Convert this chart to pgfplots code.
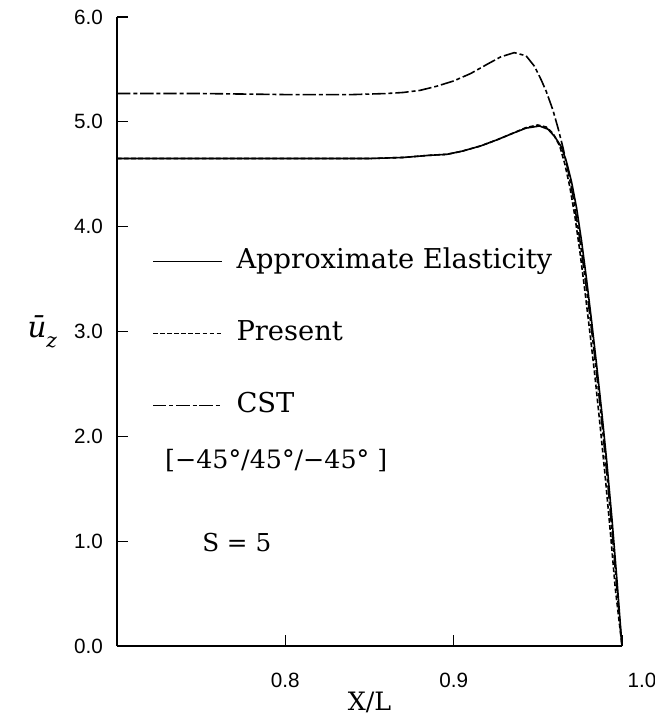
\documentclass[border=0pt]{standalone}
\usepackage{fontspec}
\setmainfont{DejaVu Serif}
\newfontfamily\tickfont{Liberation Sans}
\usepackage{pgfplots}
\pgfplotsset{compat=1.18}

\pgfplotstableread{
x y
0.700 4.65
0.750 4.65
0.800 4.65
0.850 4.65
0.870 4.66
0.885 4.68
0.896 4.69
0.905 4.72
0.916 4.77
0.926 4.83
0.935 4.89
0.943 4.94
0.951 4.96
0.956 4.93
0.960 4.86
0.964 4.76
0.967 4.62
0.970 4.43
0.973 4.18
0.976 3.86
0.979 3.49
0.982 3.09
0.985 2.67
0.988 2.23
0.991 1.75
0.994 1.22
0.997 0.63
1.000 0.00
}\approxtab

\pgfplotstableread{
x y
0.700 4.65
0.750 4.65
0.800 4.65
0.850 4.65
0.870 4.66
0.885 4.68
0.896 4.69
0.905 4.72
0.916 4.77
0.926 4.83
0.935 4.89
0.943 4.945
0.950 4.97
0.955 4.95
0.959 4.89
0.963 4.77
0.966 4.60
0.969 4.38
0.972 4.10
0.975 3.76
0.978 3.38
0.981 2.98
0.984 2.56
0.987 2.10
0.990 1.62
0.993 1.10
0.996 0.55
1.000 0.00
}\presenttab

\pgfplotstableread{
x y
0.700 5.27
0.750 5.27
0.800 5.26
0.840 5.26
0.860 5.27
0.870 5.28
0.880 5.30
0.890 5.34
0.900 5.39
0.910 5.46
0.920 5.55
0.928 5.62
0.936 5.66
0.943 5.63
0.948 5.53
0.952 5.40
0.955 5.29
0.959 5.11
0.962 4.94
0.965 4.75
0.968 4.53
0.971 4.28
0.974 3.98
0.977 3.64
0.980 3.27
0.983 2.87
0.986 2.44
0.989 1.98
0.992 1.47
0.995 0.92
0.998 0.35
1.000 0.00
}\csttab

\begin{document}
\begin{tikzpicture}
\begin{axis}[
  scale only axis,
  width=378.75pt, height=471.75pt,
  xmin=0.7, xmax=1.0, ymin=0, ymax=6,
  axis lines*=left,
  axis line style={line width=0.9pt},
  tick align=inside,
  major tick length=8pt,
  tick style={line width=0.9pt, black},
  xtick={0.8,0.9,1.0},
  xticklabels={0.8,0.9,{\hspace*{30pt}1.0}},
  ytick={0,1,2,3,4,5,6},
  yticklabel={\pgfmathprintnumber[fixed,fixed zerofill,precision=1]{\tick}},
  /pgf/number format/assume math mode=true,
  ticklabel style={font=\tickfont\fontsize{15.5}{18}\selectfont},
  xticklabel style={yshift=-17pt},
  yticklabel style={xshift=-7pt},
  xlabel={X/L},
  xlabel style={font=\fontsize{19}{22}\selectfont, at={(axis description cs:0.5,0)}, anchor=center, yshift=-42pt},
  ylabel={\textit{ū}\raisebox{-0.35em}{\fontsize{15}{17}\selectfont\textit{z}}},
  ylabel style={font=\fontsize{22}{26}\selectfont, rotate=-90, inner sep=0pt, at={(axis description cs:0,0.5)}, anchor=center, xshift=-56pt},
  legend style={draw=none, fill=none, at={(axis cs:0.7184,3.81)}, anchor=north west,
    font=\fontsize{20.5}{24}\selectfont, row sep=36pt,
    nodes={text height=14pt, text depth=4pt, inner sep=0pt}},
  legend cell align=left,
  legend image code/.code={\draw[#1] (0pt,0pt) -- (52pt,0pt);},
]
\addplot[black, line width=1.2pt] table[x=x,y=y]{\approxtab};
\addlegendentry{\hspace*{10pt}Approximate Elasticity}
\addplot[black, line width=1.2pt, dash pattern=on 3.5pt off 1.8pt] table[x=x,y=y]{\presenttab};
\addlegendentry{\hspace*{10pt}Present}
\addplot[black, line width=1.2pt, dash pattern=on 10pt off 2.2pt on 3pt off 2.2pt] table[x=x,y=y]{\csttab};
\addlegendentry{\hspace*{10pt}CST}
\node[anchor=west, font=\fontsize{19}{22}\selectfont, inner sep=0pt] at (axis cs:0.7285,1.77) {[−45°/45°/−45° ]};
\node[anchor=west, font=\fontsize{18.5}{22}\selectfont, inner sep=0pt] at (axis cs:0.7505,0.99) {S = 5};
\end{axis}
\pgfresetboundingbox
\path (current axis.south west) ++(-87.75pt,-52.5pt) rectangle ++(491.25pt,537pt);
\end{tikzpicture}
\end{document}
